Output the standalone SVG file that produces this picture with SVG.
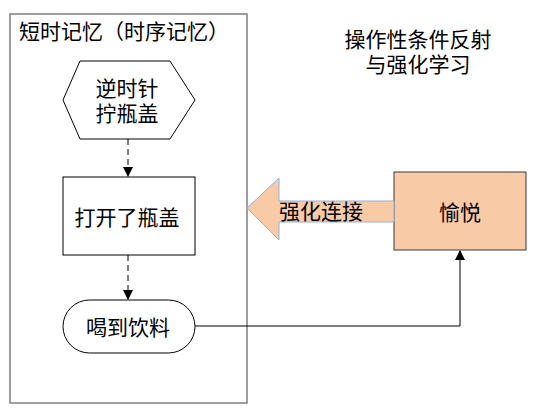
<svg xmlns="http://www.w3.org/2000/svg" width="546" height="419" viewBox="0 0 546 419">
<defs>
<style>
text{font-family:"Noto Sans CJK SC","Liberation Sans",sans-serif;font-size:21px;fill:#000;text-anchor:middle;dominant-baseline:central}
.node{fill:#fff;stroke:#000;stroke-width:1}
.dash{fill:none;stroke:#000;stroke-width:1;stroke-dasharray:6,4}
.line{fill:none;stroke:#000;stroke-width:1}
</style>
<marker id="ah" markerWidth="10" markerHeight="10" refX="9" refY="5" orient="auto" markerUnits="userSpaceOnUse">
<path d="M0,0 L10,5 L0,10 Z" fill="#000"/>
</marker>
</defs>
<rect width="546" height="419" fill="#fff"/>
<g id="frame">
<rect x="10" y="14" width="237" height="389" fill="none" stroke="#7f7f7f" stroke-width="1.5"/>
<text x="124" y="30">短时记忆（时序记忆）</text>
</g>
<g id="title">
<text x="418" y="38">操作性条件反射</text>
<text x="418" y="63">与强化学习</text>
</g>
<g id="hex">
<polygon class="node" points="80,61 170,61 195,100 170,139 80,139 63,100"/>
<text x="127" y="87">逆时针</text>
<text x="127" y="112">拧瓶盖</text>
</g>
<g id="open">
<rect class="node" x="63" y="177" width="132" height="78"/>
<text x="127" y="216">打开了瓶盖</text>
</g>
<g id="drink">
<rect class="node" x="63" y="300" width="132" height="53" rx="26.5" ry="26.5"/>
<text x="128" y="326">喝到饮料</text>
</g>
<g id="joy">
<rect x="394" y="172" width="132" height="78" fill="#F8CBA6" stroke="#3a3a3a" stroke-width="1"/>
<text x="460" y="211">愉悦</text>
</g>
<g id="strengthen">
<polygon points="394,201 279,201 279,178 247,208 279,240 279,222 394,222" fill="#F8CBA6" stroke="#8EB4E3" stroke-width="1"/>
<text x="321" y="210">强化连接</text>
</g>
<g id="connectors">
<line class="dash" x1="128" y1="139" x2="128" y2="176" marker-end="url(#ah)"/>
<line class="dash" x1="128" y1="255" x2="128" y2="299" marker-end="url(#ah)"/>
<polyline class="line" points="195,326 460,326 460,251" marker-end="url(#ah)"/>
</g>
</svg>
